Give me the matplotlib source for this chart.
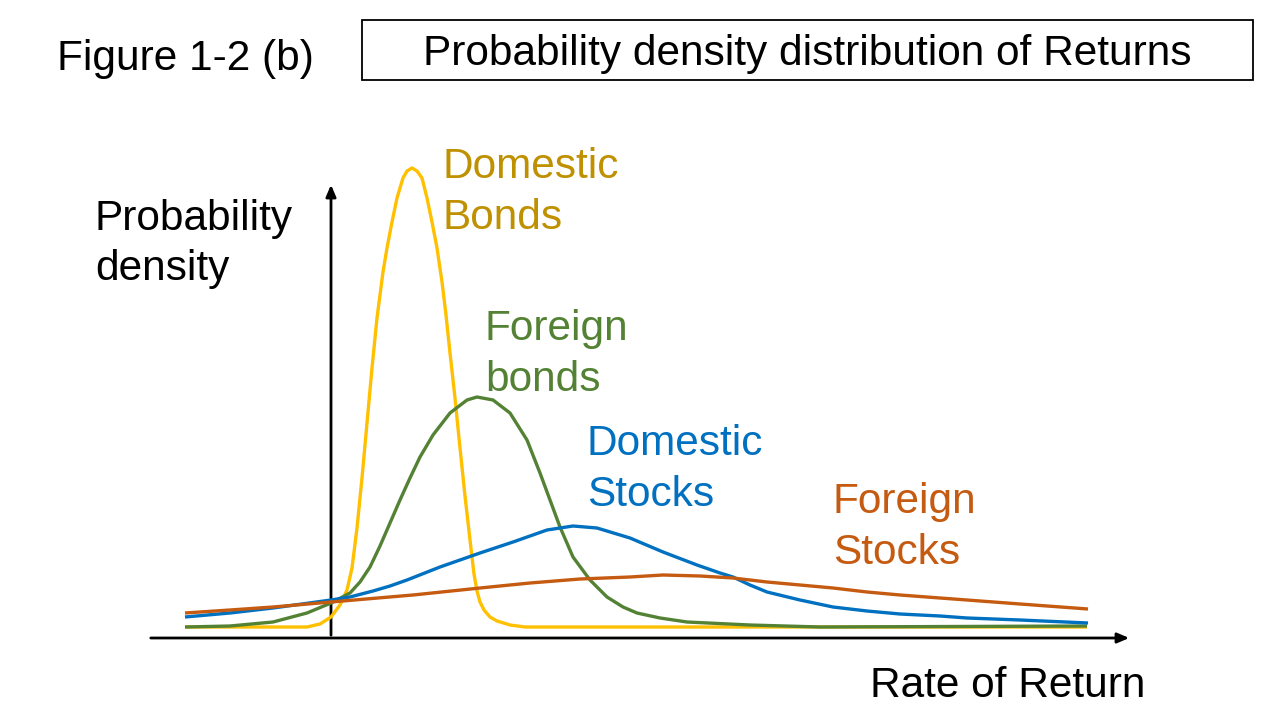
import matplotlib
matplotlib.use('Agg')
from matplotlib import pyplot as plt
from matplotlib.patches import Rectangle

plt.rcParams['font.family'] = ['Liberation Sans', 'DejaVu Sans']

# curves: x position, density (height above the return axis)
bonds_dom_x = [185, 250, 307, 320, 331, 340, 347, 352, 357, 362, 367, 372, 377, 380, 383, 387, 392,
               397, 403, 407, 412, 417, 422, 427, 432, 437, 442, 446, 450, 455, 460, 465, 470,
               474, 477, 480, 484, 490, 497, 510, 525, 600, 800, 1087]
bonds_dom_y = [11, 11, 11, 14, 21, 33, 48, 70, 110, 160, 215, 270, 320, 343, 366, 390, 416,
               440, 460, 467, 470, 467, 460, 440, 416, 390, 356, 323, 285, 240, 190, 142, 98,
               64, 47, 36, 28, 21, 17, 13, 11, 11, 11, 11]

bonds_for_x = [185, 230, 273, 307, 331, 350, 360, 370, 380, 390, 400, 410, 420, 433, 450, 467, 477,
               493, 510, 527, 540, 550, 560, 573, 590, 607, 623, 637, 660, 687, 750, 820, 1087]
bonds_for_y = [11, 12, 16, 25, 35, 45, 56, 71, 92, 115, 138, 160, 181, 203, 225, 238, 241,
               238, 225, 198, 165, 138, 111, 81, 58, 41, 31, 25, 20, 16, 13, 11, 12]

stocks_dom_x = [185, 230, 273, 331, 350, 373, 390, 407, 440, 480, 513, 547, 573, 597, 630, 663, 697,
                720, 733, 750, 767, 800, 833, 867, 900, 940, 967, 1020, 1088]
stocks_dom_y = [21, 25, 30, 38, 41, 47, 52, 58, 71, 85, 96, 108, 112, 110, 100, 86, 73,
                65, 61, 53, 46, 38, 31, 27, 24, 22, 20, 18, 15]

stocks_for_x = [185, 230, 273, 331, 413, 480, 530, 580, 630, 663, 700, 733, 767, 800, 833,
                867, 900, 940, 967, 1020, 1088]
stocks_for_y = [25, 28, 31, 36, 43, 50, 55, 59, 61, 63, 62, 60, 56, 53, 50,
                46, 43, 40, 38, 34, 29]

labels = ['Domestic\nBonds', 'Foreign\nbonds', 'Domestic\nStocks', 'Foreign\nStocks']
line_colors = ['#FFC000', '#548235', '#0070C0', '#C55A11']
text_colors = ['#BF9000', '#548235', '#0070C0', '#C55A11']
label_pos = [(443, 460), (485, 298), (587, 183), (833, 125)]

fig = plt.figure(figsize=(12.8, 7.2), dpi=100)
ax = fig.add_axes([0, 0, 1, 1])
ax.set_xlim(0, 1280)
ax.set_ylim(-82, 638)
ax.axis('off')

fs = 30.5

# axes with arrows
ax.annotate('', xy=(1132, 0), xytext=(148, 0),
            arrowprops=dict(arrowstyle='-|>,head_length=0.7,head_width=0.3', color='black', lw=2))
ax.annotate('', xy=(331, 456), xytext=(331, 0),
            arrowprops=dict(arrowstyle='-|>,head_length=0.7,head_width=0.3', color='black', lw=2))

curves = [(bonds_dom_x, bonds_dom_y), (bonds_for_x, bonds_for_y),
          (stocks_dom_x, stocks_dom_y), (stocks_for_x, stocks_for_y)]
order = [3, 2, 1, 0]
for i in order:
    xs, ys = curves[i]
    ax.plot(xs, ys, color=line_colors[i], lw=2.4, solid_capstyle='butt',
            solid_joinstyle='round', zorder=3 + i)

for lab, c, (x, y) in zip(labels, text_colors, label_pos):
    for k, line in enumerate(lab.split('\n')):
        ax.text(x, y - k * 51, line, color=c, fontsize=fs, ha='left', va='baseline')

ax.text(95, 408, 'Probability', fontsize=fs, ha='left', va='baseline')
ax.text(95, 358, 'density', fontsize=fs, ha='left', va='baseline')
ax.text(870, -59, 'Rate of Return', fontsize=fs, ha='left', va='baseline')

# header
ax.text(57, 568, 'Figure 1-2 (b)', fontsize=fs, ha='left', va='baseline')
ax.add_patch(Rectangle((362, 558), 891, 60, fill=False, edgecolor='black', lw=1.3))
ax.text(807, 573, 'Probability density distribution of Returns', fontsize=fs, ha='center', va='baseline')

fig.savefig('out.png', dpi=100)
